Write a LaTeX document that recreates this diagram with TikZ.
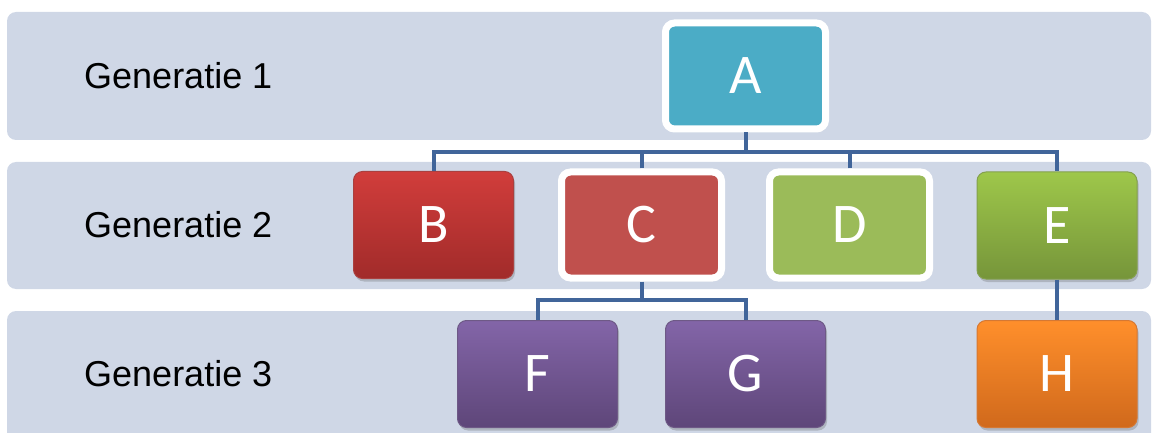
\documentclass[tikz,border=0pt]{standalone}
\usepackage{fontspec}
\setmainfont{Liberation Sans}
\newfontfamily\boxfont{Carlito}
\usetikzlibrary{shadows}
\definecolor{bandc}{HTML}{CFD7E6}
\definecolor{linec}{HTML}{41659A}
\definecolor{tealc}{HTML}{4BACC6}
\definecolor{redT}{HTML}{D13D3B}
\definecolor{redB}{HTML}{A12B2A}
\definecolor{redC}{HTML}{C0504D}
\definecolor{greenD}{HTML}{9BBB59}
\definecolor{greenT}{HTML}{9EC74A}
\definecolor{greenB}{HTML}{76953A}
\definecolor{purT}{HTML}{8365A8}
\definecolor{purB}{HTML}{5E4679}
\definecolor{oraT}{HTML}{FF8F2B}
\definecolor{oraB}{HTML}{D0691C}
\tikzset{
  band/.style={fill=bandc, draw=none, rounded corners=9pt},
  genlabel/.style={anchor=west, inner sep=0pt, font=\fontsize{36}{40}\selectfont, text=black},
  shade/.style={drop shadow={shadow xshift=1.5pt, shadow yshift=-3pt, opacity=0.25, fill=black!70}},
  selbox/.style={rounded corners=9pt, draw=white, line width=7pt, minimum width=160pt, minimum height=106pt,
     text=white, font=\boxfont\fontsize{56}{60}\selectfont, inner sep=0pt, shade},
  plainbox/.style={rounded corners=9pt, line width=1pt, minimum width=160pt, minimum height=107pt,
     text=white, font=\boxfont\fontsize{56}{60}\selectfont, inner sep=0pt, shade},
  conn/.style={draw=linec, line width=4pt, line join=miter}
}
\begin{document}
\begin{tikzpicture}[x=1pt, y=-1pt]
\useasboundingbox (0,0) rectangle (1152,433);
% bands
\path[band] (7,12) rectangle (1151,140);
\path[band] (7,162) rectangle (1151,289);
\path[band] (7,311) rectangle (1151,450);
\node[genlabel] (g1) at (84,76) {Generatie 1};
\node[genlabel] (g2) at (84,225) {Generatie 2};
\node[genlabel] (g3) at (84,374) {Generatie 3};
% boxes
\node[selbox, fill=tealc] (A) at (745.5,76) {A};
\node[plainbox, draw=redB!90, top color=redT, bottom color=redB] (B) at (433.5,225) {B};
\node[selbox, fill=redC] (C) at (641.5,225) {C};
\node[selbox, fill=greenD] (D) at (849.5,225) {D};
\node[plainbox, draw=greenB!90!white, top color=greenT, bottom color=greenB] (E) at (1057,225.5) {E};
\node[plainbox, draw=purB!90, top color=purT, bottom color=purB] (F) at (537.5,374) {F};
\node[plainbox, draw=purB!90, top color=purT, bottom color=purB] (G) at (745.5,374) {G};
\node[plainbox, draw=oraB!90, top color=oraT, bottom color=oraB] (H) at (1057,374) {H};
% connectors
\coordinate (bus1) at (0,152);
\coordinate (bus2) at (0,300);
\draw[conn] (A.south) -- (A.south |- bus1);
\draw[conn] (B.north) |- (E.north |- bus1) -- (E.north);
\draw[conn] (C.north) -- (C.north |- bus1);
\draw[conn] (D.north) -- (D.north |- bus1);
\draw[conn] (C.south) -- (C.south |- bus2);
\draw[conn] (F.north) |- (G.north |- bus2) -- (G.north);
\draw[conn] (E.south) -- (H.north);
\end{tikzpicture}
\end{document}
